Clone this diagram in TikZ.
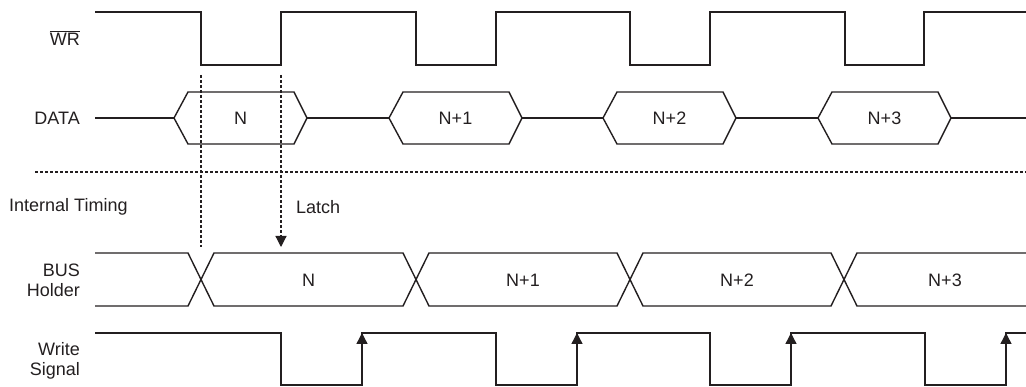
\documentclass[tikz,border=0pt]{standalone}
\usepackage{fontspec}
\setmainfont{Liberation Sans}
\usetikzlibrary{arrows.meta}
\definecolor{ink}{RGB}{35,31,32}
\begin{document}
\begin{tikzpicture}[x=1pt,y=-1pt, color=ink,
  sig/.style={line width=1.4pt, line join=miter},
  guide/.style={line width=1.2pt, dash pattern=on 3pt off 2pt},
  lbl/.style={font=\fontsize{18}{20}\selectfont, inner sep=0pt, text=ink},
  rlbl/.style={lbl, align=right, anchor=east},
  tip/.style={-{Triangle[length=11pt,width=11pt]}}]
\useasboundingbox (0,0) rectangle (1026,387);

% labels
\node[rlbl] (lwr) at (80,38) {$\overline{\mbox{WR}}$};
\node[rlbl] (ldata) at (80,118) {DATA};
\node[lbl, anchor=west] (lint) at (9,207) {Internal Timing};
\node[lbl, anchor=west] (llatch) at (296,207) {Latch};
\node[rlbl] (lbus) at (80,280) {BUS\\Holder};
\node[rlbl] (lws) at (80,361) {Write\\Signal};

% WR
\draw[sig] (95,12) -- (201,12) -- (201,65) -- (281,65) -- (281,12) -- (416,12) -- (416,65) -- (496,65) -- (496,12)
  -- (630,12) -- (630,65) -- (710,65) -- (710,12) -- (845,12) -- (845,65) -- (924,65) -- (924,12) -- (1026,12);

% DATA
\draw[sig] (95,118) -- (174,118) (307,118) -- (389,118) (522,118) -- (603,118) (736,118) -- (818,118) (951,118) -- (1026,118);
\foreach \x/\t/\n in {174/N/d0, 389/N+1/d1, 603/N+2/d2, 818/N+3/d3}{
  \draw[sig] (\x,118) -- (\x+14,92) -- (\x+120,92) -- (\x+133,118) -- (\x+120,144) -- (\x+14,144) -- cycle;
  \node[lbl] (\n) at (\x+66.5,118) {\t};
}

% guides
\draw[guide] (201,75) -- (201,247);
\draw[guide] (35,172) -- (1026,172);
\coordinate (lt) at (281,75);
\coordinate (lb) at (281,247);
\draw[guide, tip] (lt) -- (lb);

% BUS holder
\draw[sig] (95,253) -- (188,253) -- (214,306) -- (403,306) -- (429,253) -- (617,253) -- (643,306) -- (831,306) -- (857,253) -- (1026,253);
\draw[sig] (95,306) -- (188,306) -- (214,253) -- (403,253) -- (429,306) -- (617,306) -- (643,253) -- (831,253) -- (857,306) -- (1026,306);
\node[lbl] (b0) at (308.5,280) {N};
\node[lbl] (b1) at (523,280) {N+1};
\node[lbl] (b2) at (737,280) {N+2};
\node[lbl] (b3) at (945,280) {N+3};

% Write signal
\draw[sig] (95,333) -- (281,333) -- (281,385) -- (362,385) -- (362,333) -- (496,333) -- (496,385) -- (577,385) -- (577,333)
  -- (710,333) -- (710,385) -- (791,385) -- (791,333) -- (925,333) -- (925,385) -- (1006,385) -- (1006,333) -- (1026,333);
\foreach \x in {362,577,791,1006}{
  \draw[sig, tip] (\x,365) -- (\x,333);
}
\end{tikzpicture}
\end{document}
